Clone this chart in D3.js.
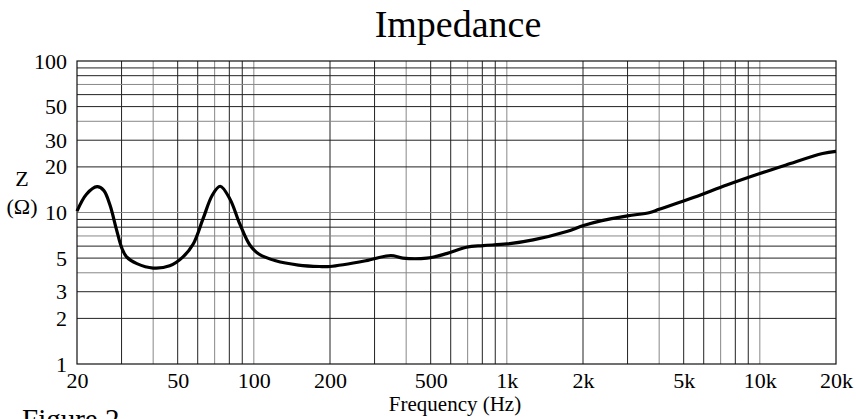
<!DOCTYPE html>
<html>
<head>
<meta charset="utf-8">
<script src="https://cdn.jsdelivr.net/npm/d3@7"></script>
<style>
  body { margin: 0; background: #fff; }
  text { font-family: "Liberation Serif", "DejaVu Serif", serif; fill: #000; }
</style>
</head>
<body>
<div id="chart"></div>
<script>
// curve values
var freq = [20, 21.8, 24, 25.5, 27, 28.6, 30.1, 31.4, 34.5, 40, 46.5, 52.5, 57.6, 63, 68.5, 73.6, 80.6, 88, 96.4, 105, 122,
  150, 182, 200, 277, 348, 388, 483, 577, 692, 806, 1000, 1270, 1725, 2010, 2350, 3000, 3680, 4000, 5500, 7400,
  10000, 12700, 17700, 20000];
var impedance = [10.2, 13.2, 14.8, 14.0, 11.2, 7.8, 5.8, 5.1, 4.6, 4.3, 4.45, 5.1, 6.2, 9.1, 13, 14.9, 12.2, 8.4, 6.1, 5.3, 4.8,
  4.5, 4.4, 4.4, 4.8, 5.2, 5.0, 5.0, 5.35, 5.9, 6.05, 6.2, 6.6, 7.5, 8.2, 8.8, 9.5, 10.0, 10.5, 12.6, 15.2,
  18.1, 20.6, 24.5, 25.3];

var xTickValues = [20, 50, 100, 200, 500, 1000, 2000, 5000, 10000, 20000];
var xTickLabels = ["20", "50", "100", "200", "500", "1k", "2k", "5k", "10k", "20k"];
var yTickValues = [1, 2, 3, 5, 10, 20, 30, 50, 100];
var yTickLabels = ["1", "2", "3", "5", "10", "20", "30", "50", "100"];

var svgWidth = 856;
var svgHeight = 419;
var margin = { top: 61, right: 20, bottom: 55, left: 77 };
var width = svgWidth - margin.left - margin.right;
var height = svgHeight - margin.top - margin.bottom;

var svg = d3.select("#chart")
  .append("svg")
  .attr("width", svgWidth)
  .attr("height", svgHeight);

var chartGroup = svg.append("g")
  .attr("transform", `translate(${margin.left}, ${margin.top})`);

var xScale = d3.scaleLog().domain([20, 20000]).range([0, width]);
var yScale = d3.scaleLog().domain([1, 100]).range([height, 0]);

// log grid: 1..9 in every decade
var xGrid = [];
[10, 100, 1000, 10000].forEach(function (dec) {
  for (var m = 1; m <= 9; m++) {
    var v = dec * m;
    if (v > 20 && v < 20000) xGrid.push(v);
  }
});
var yGrid = [];
[1, 10].forEach(function (dec) {
  for (var m = 1; m <= 9; m++) {
    var v = dec * m;
    if (v > 1) yGrid.push(v);
  }
});

chartGroup.selectAll(".vgrid")
  .data(xGrid)
  .enter()
  .append("line")
  .attr("x1", d => xScale(d)).attr("x2", d => xScale(d))
  .attr("y1", 0).attr("y2", height)
  .attr("stroke", (d, i) => i % 3 === 1 ? "#888" : "#222")
  .attr("stroke-width", 1);

chartGroup.selectAll(".hgrid")
  .data(yGrid)
  .enter()
  .append("line")
  .attr("x1", 0).attr("x2", width)
  .attr("y1", d => yScale(d)).attr("y2", d => yScale(d))
  .attr("stroke", (d, i) => i % 3 === 2 ? "#888" : "#222")
  .attr("stroke-width", 1);

// frame
chartGroup.append("rect")
  .attr("width", width)
  .attr("height", height)
  .attr("fill", "none")
  .attr("stroke", "#111")
  .attr("stroke-width", 1.2);

// axes (labels only, the grid is drawn above)
var bottomAxis = d3.axisBottom(xScale)
  .tickValues(xTickValues)
  .tickSize(0)
  .tickPadding(8)
  .tickFormat((d, i) => xTickLabels[i]);
var leftAxis = d3.axisLeft(yScale)
  .tickValues(yTickValues)
  .tickSize(0)
  .tickPadding(10)
  .tickFormat((d, i) => yTickLabels[i]);

var xAxisG = chartGroup.append("g")
  .attr("transform", `translate(0, ${height})`)
  .call(bottomAxis);
var yAxisG = chartGroup.append("g")
  .call(leftAxis);

[xAxisG, yAxisG].forEach(function (g) {
  g.attr("font-family", null).attr("font-size", null);
  g.select(".domain").remove();
  g.selectAll("text")
    .style("font-family", '"Liberation Serif", serif')
    .style("font-size", "22px")
    .attr("fill", "#000");
});

// impedance curve
var line = d3.line()
  .x((d, i) => xScale(freq[i]))
  .y(d => yScale(d))
  .curve(d3.curveCatmullRom.alpha(0.5));

chartGroup.append("path")
  .datum(impedance)
  .attr("d", line)
  .attr("fill", "none")
  .attr("stroke", "#000")
  .attr("stroke-width", 3.2)
  .attr("stroke-linejoin", "round");

// title and labels
svg.append("text")
  .attr("x", 458).attr("y", 37)
  .attr("text-anchor", "middle")
  .style("font-size", "38px")
  .text("Impedance");

svg.append("text")
  .attr("x", 455).attr("y", 411)
  .attr("text-anchor", "middle")
  .style("font-size", "21px")
  .text("Frequency (Hz)");

svg.append("text")
  .attr("x", 22).attr("y", 186)
  .attr("text-anchor", "middle")
  .style("font-size", "22px")
  .text("Z");

svg.append("text")
  .attr("x", 22).attr("y", 214)
  .attr("text-anchor", "middle")
  .style("font-size", "22px")
  .text("(Ω)");

svg.append("text")
  .attr("x", 22).attr("y", 429)
  .style("font-size", "29px")
  .text("Figure 2");
</script>
</body>
</html>
